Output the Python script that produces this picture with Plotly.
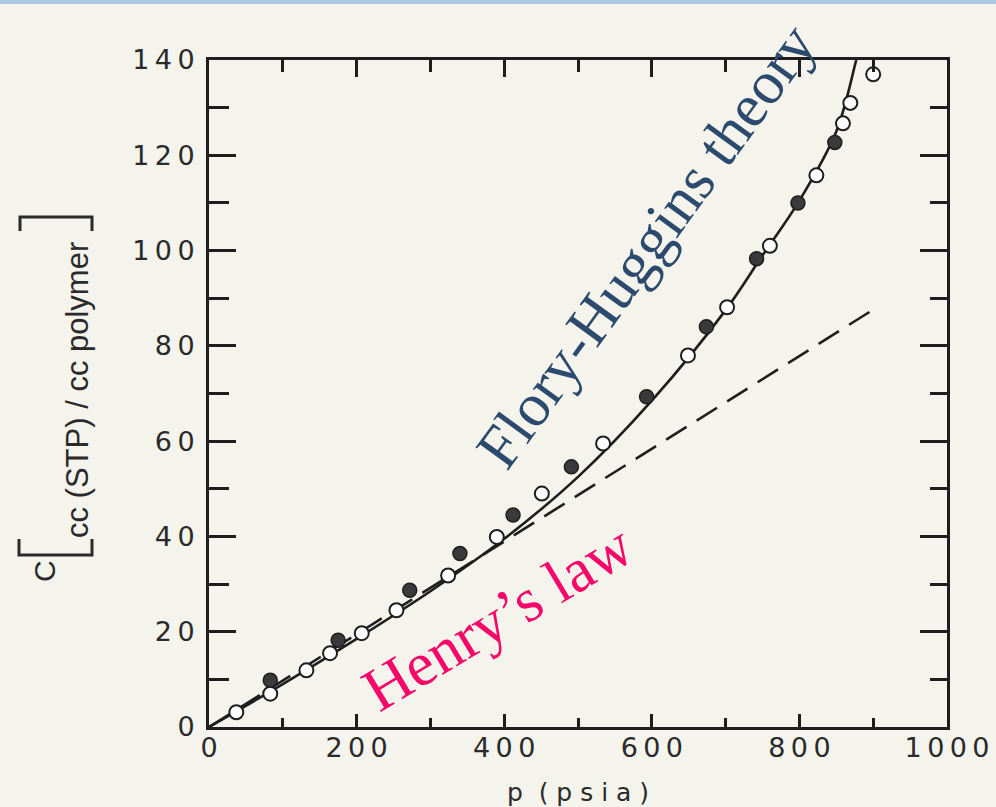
import plotly.graph_objects as go

# ---- data ----
open_p = [37, 83, 132, 164, 207, 254, 324, 390, 451, 534, 649, 702, 760, 823, 859, 869, 900]
open_c = [3.1, 7.0, 11.9, 15.5, 19.7, 24.5, 31.8, 39.9, 49.0, 59.5, 78.0, 88.1, 101.0, 115.8, 126.7, 131.0, 137.0]

filled_p = [83, 175, 272, 340, 412, 491, 593, 674, 742, 798, 848]
filled_c = [9.8, 18.2, 28.7, 36.4, 44.5, 54.6, 69.3, 84.0, 98.3, 110.0, 122.7]

fh_p = [0, 100, 200, 300, 400, 500, 600, 700, 750, 800, 850, 877, 885]
fh_c = [0, 9.0, 18.5, 28.5, 39.5, 52.5, 68.5, 87.5, 99.0, 110.5, 125.0, 140.0, 145.0]

henry_p = [0, 902]
henry_c = [0, 87.8]

x_ticks = [0, 200, 400, 600, 800, 1000]
y_ticks = [0, 20, 40, 60, 80, 100, 120, 140]

TS = "\u2009"
x_ticktext = [TS.join(str(v)) for v in x_ticks]
y_ticktext = [TS.join(str(v)) for v in y_ticks]

BG = "#F4F4EC"
INK = "#1E1E1E"
TXT = "#2A2A2A"
tickfont = dict(family="DejaVu Sans", size=27, color=TXT)

# plot-area geometry in pixels (for decorations in paper units)
L, R, T, B = 209, 947, 60, 727
W, H = R - L, B - T


def px(xp):
    return (xp - L) / W


def py(yp):
    return (B - yp) / H


fig = go.Figure()

fig.add_trace(go.Scatter(x=henry_p, y=henry_c, mode="lines",
                         line=dict(color=INK, width=2.6, dash="24px,12px"),
                         showlegend=False, hoverinfo="skip"))
fig.add_trace(go.Scatter(x=fh_p, y=fh_c, mode="lines", line_shape="spline",
                         line=dict(color=INK, width=2.6),
                         showlegend=False, hoverinfo="skip"))
fig.add_trace(go.Scatter(x=open_p, y=open_c, mode="markers",
                         marker=dict(symbol="circle", size=14, color="white",
                                     line=dict(color=INK, width=2)),
                         showlegend=False, cliponaxis=False))
fig.add_trace(go.Scatter(x=filled_p, y=filled_c, mode="markers",
                         marker=dict(symbol="circle", size=14, color="#3A3A3A",
                                     line=dict(color=INK, width=1.5)),
                         showlegend=False, cliponaxis=False))
# empty helpers so the top/right tick axes are drawn
fig.add_trace(go.Scatter(x=[], y=[], xaxis="x2", yaxis="y", showlegend=False))
fig.add_trace(go.Scatter(x=[], y=[], xaxis="x", yaxis="y2", showlegend=False))

bracket_line = dict(color=TXT, width=3)

fig.update_layout(
    width=996, height=807,
    margin=dict(l=L, r=996 - R, t=T, b=807 - B, autoexpand=False),
    paper_bgcolor=BG, plot_bgcolor=BG,
    showlegend=False,
    xaxis=dict(range=[0, 1000], showgrid=False, zeroline=False, automargin=False,
               showline=True, linecolor=INK, linewidth=3, mirror=True,
               ticks="inside", ticklen=13, tickwidth=2.5, tickcolor=INK,
               tickvals=x_ticks, ticktext=x_ticktext, tickfont=tickfont,
               ticklabelstandoff=-5,
               minor=dict(ticks="inside", ticklen=9, tickwidth=2.5, tickcolor=INK, dtick=100, showgrid=False),
               title=dict(text="p  ( p s i a )", font=dict(family="DejaVu Sans", size=25, color=TXT), standoff=23)),
    yaxis=dict(range=[0, 140], showgrid=False, zeroline=False, automargin=False,
               showline=True, linecolor=INK, linewidth=3, mirror=True,
               ticks="inside", ticklen=27, tickwidth=2.5, tickcolor=INK,
               tickvals=y_ticks, ticktext=y_ticktext, tickfont=tickfont,
               ticklabelstandoff=6,
               minor=dict(ticks="inside", ticklen=20, tickwidth=2.5, tickcolor=INK, dtick=10, showgrid=False)),
    xaxis2=dict(range=[0, 1000], overlaying="x", side="top", anchor="y", automargin=False,
                showgrid=False, zeroline=False, showline=False, showticklabels=False,
                ticks="inside", ticklen=17, tickwidth=2.5, tickcolor=INK, dtick=200, tick0=0,
                minor=dict(ticks="inside", ticklen=12, tickwidth=2.5, tickcolor=INK, dtick=100, showgrid=False)),
    yaxis2=dict(range=[0, 140], overlaying="y", side="right", anchor="x", automargin=False,
                showgrid=False, zeroline=False, showline=False, showticklabels=False,
                ticks="inside", ticklen=27, tickwidth=2.5, tickcolor=INK, dtick=20, tick0=0,
                minor=dict(ticks="inside", ticklen=17, tickwidth=2.5, tickcolor=INK, dtick=10, showgrid=False)),
    annotations=[
        dict(text="Flory-Huggins theory", x=593, y=101, xref="x", yref="y",
             showarrow=False, textangle=-54, xanchor="center", yanchor="middle",
             font=dict(family="Liberation Serif", size=61, color="#2C4A6E")),
        dict(text="Henry\u2019s law", x=392, y=23, xref="x", yref="y",
             showarrow=False, textangle=-31, xanchor="center", yanchor="middle",
             font=dict(family="Liberation Serif", size=62, color="#F5086A")),
        # y-axis title pieces
        dict(text="cc (STP) / cc polymer", x=px(78), y=py(390), xref="paper", yref="paper",
             showarrow=False, textangle=-90, xanchor="center", yanchor="middle",
             font=dict(family="Liberation Sans", size=31, color=TXT)),
        dict(text="C", x=px(44), y=py(571), xref="paper", yref="paper",
             showarrow=False, textangle=-90, xanchor="center", yanchor="middle",
             font=dict(family="Liberation Sans", size=30, color=TXT)),
    ],
    shapes=[
        dict(type="rect", xref="paper", yref="paper", x0=-0.3, x1=1.1,
             y0=1 + 56 / H, y1=1 + 61 / H, fillcolor="#A9C6E4", line=dict(width=0), layer="below"),
        # bracket below the unit text
        dict(type="path", xref="paper", yref="paper",
             path=f"M {px(19)},{py(539)} L {px(19)},{py(555)} L {px(92)},{py(555)} L {px(92)},{py(539)}",
             line=bracket_line),
        # bracket above the unit text
        dict(type="path", xref="paper", yref="paper",
             path=f"M {px(20)},{py(231)} L {px(20)},{py(217)} L {px(92)},{py(217)} L {px(92)},{py(231)}",
             line=bracket_line),
    ],
)

fig.write_html("out.html")
